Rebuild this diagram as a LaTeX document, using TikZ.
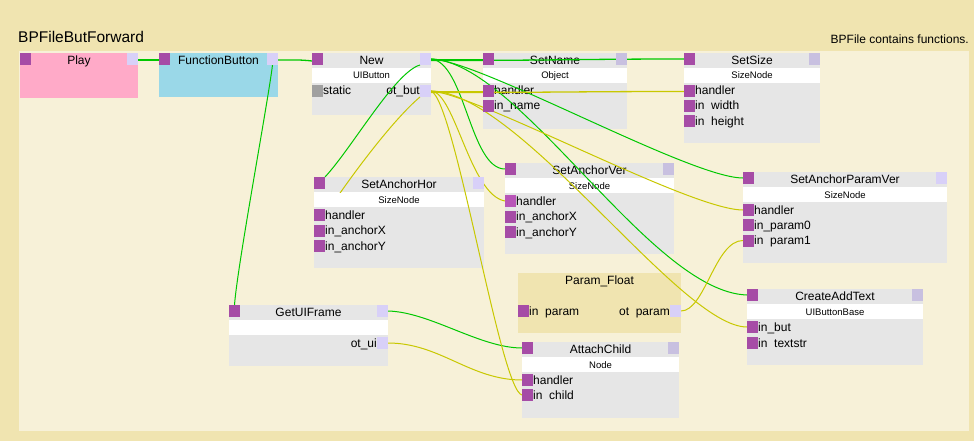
\documentclass[tikz,border=0pt]{standalone}
\usepackage{fontspec}
\setmainfont{Liberation Sans}
\pgfdeclarelayer{fg}
\pgfsetlayers{main,fg}
\definecolor{outerbg}{HTML}{F0E4B0}
\definecolor{innerbg}{HTML}{F7F1D8}
\definecolor{nodegray}{HTML}{E6E6E6}
\definecolor{portin}{HTML}{A64CA6}
\definecolor{porthot}{HTML}{B855B8}
\definecolor{portlight}{HTML}{D8D0F8}
\definecolor{portdark}{HTML}{C8C0E0}
\definecolor{portstatic}{HTML}{A0A0A0}
\definecolor{playpink}{HTML}{FFAAC8}
\definecolor{fbblue}{HTML}{9AD8E8}
\definecolor{execgreen}{HTML}{00C800}
\definecolor{datayellow}{HTML}{C8C800}
\newcommand\fttl{\fontsize{12}{14}\selectfont}
\newcommand\fsub{\fontsize{9.5}{11}\selectfont}
\tikzset{
  box/.style={anchor=north west, inner sep=0pt, outer sep=0pt, draw=none, fill=nodegray},
  band/.style={anchor=north west, inner sep=0pt, outer sep=0pt, draw=none, fill=white, minimum height=15pt},
  port/.style={anchor=north west, inner sep=0pt, outer sep=0pt, draw=none, minimum width=11pt, minimum height=12pt},
  inport/.style={port, fill=portin},
  outport/.style={port, fill=portlight},
  ttl/.style={font=\fttl, inner sep=0pt, anchor=base},
  sub/.style={font=\fsub, inner sep=0pt, anchor=base},
  lbl/.style={font=\fttl, inner sep=0pt, anchor=base west},
  rlbl/.style={font=\fttl, inner sep=0pt, anchor=base east},
  exec/.style={draw=execgreen, line width=1pt},
  data/.style={draw=datayellow, line width=1pt},
  flat/.style={line width=1.3pt}
}
% name, x, y, w, h, title, subtitle, out-port colour
\newcommand\bpfunc[8]{%
  \node[box, minimum width=#4pt, minimum height=#5pt] (#1) at (#2,#3) {};
  \node[band, minimum width=#4pt] (#1-band) at ([yshift=-15pt]#1.north west) {};
  \node[ttl] (#1-title) at ([yshift=-11.5pt]#1.north) {#6};
  \node[sub] (#1-sub) at ([yshift=-11pt]#1-band.north) {#7};
  \begin{pgfonlayer}{fg}
  \node[inport] (#1-in) at (#1.north west) {};
  \node[outport, fill=#8, anchor=north east] (#1-out) at (#1.north east) {};
  \end{pgfonlayer}}
% name, x, y, w, h, fill, title, out-port colour
\newcommand\bpplain[8]{%
  \node[box, fill=#6, minimum width=#4pt, minimum height=#5pt] (#1) at (#2,#3) {};
  \node[ttl] (#1-title) at ([yshift=-11.5pt]#1.north) {#7};
  \begin{pgfonlayer}{fg}
  \node[inport] (#1-in) at (#1.north west) {};
  \node[outport, fill=#8, anchor=north east] (#1-out) at (#1.north east) {};
  \end{pgfonlayer}}
% node, id, offset, label, port colour
\newcommand\inrow[5]{%
  \begin{pgfonlayer}{fg}\node[inport, fill=#5] (#1-#2) at ([yshift=-#3pt]#1.north west) {};\end{pgfonlayer}
  \node[lbl] (#1-#2-l) at ([yshift=-10pt]#1-#2.north east) {#4};}
% node, id, offset, label
\newcommand\outrow[4]{%
  \begin{pgfonlayer}{fg}\node[outport, anchor=north east] (#1-#2) at ([yshift=-#3pt]#1.north east) {};\end{pgfonlayer}
  \node[rlbl] (#1-#2-l) at ([yshift=-10pt]#1-#2.north west) {#4};}
\begin{document}
\begin{tikzpicture}[x=1pt,y=-1pt]
\useasboundingbox (0,0) rectangle (974,441);
\node[box, fill=outerbg, minimum width=974pt, minimum height=441pt] (bg) at (0,0) {};
\node[box, fill=innerbg, minimum width=950pt, minimum height=380pt] (panel) at (19,51) {};
\node[font=\fontsize{15.5}{18}\selectfont, inner sep=0pt, anchor=base west] (maintitle) at (18,43) {BPFileButForward};
\node[font=\fttl, inner sep=0pt, anchor=base east] (note) at (969,44) {BPFile contains functions.};

\bpplain{play}{20}{53}{118}{45}{playpink}{Play}{portlight}
\bpplain{fb}{159}{53}{119}{44}{fbblue}{FunctionButton}{portlight}

\bpfunc{new}{312}{53}{119}{62}{New}{UIButton}{portlight}
\inrow{new}{st}{32}{static}{portstatic}
\outrow{new}{ot}{32}{ot\_but}

\bpfunc{sn}{483}{53}{144}{76}{SetName}{Object}{portdark}
\inrow{sn}{h}{32}{handler}{portin}
\inrow{sn}{nm}{47}{in\_name}{portin}

\bpfunc{ss}{684}{53}{136}{90}{SetSize}{SizeNode}{portdark}
\inrow{ss}{h}{32}{handler}{portin}
\inrow{ss}{w}{47}{in\ \ width}{portin}
\inrow{ss}{ht}{62}{in\ \ height}{portin}

\bpfunc{sah}{314}{177}{170}{91}{SetAnchorHor}{SizeNode}{portlight}
\inrow{sah}{h}{32}{handler}{portin}
\inrow{sah}{ax}{47.5}{in\_anchorX}{portin}
\inrow{sah}{ay}{63}{in\_anchorY}{portin}

\bpfunc{sav}{505}{163}{169}{91}{SetAnchorVer}{SizeNode}{portdark}
\inrow{sav}{h}{32}{handler}{porthot}
\inrow{sav}{ax}{47.5}{in\_anchorX}{portin}
\inrow{sav}{ay}{63}{in\_anchorY}{portin}

\bpfunc{sapv}{743}{172}{204}{91}{SetAnchorParamVer}{SizeNode}{portlight}
\inrow{sapv}{h}{32}{handler}{portin}
\inrow{sapv}{p0}{47}{in\_param0}{portin}
\inrow{sapv}{p1}{62.5}{in\ \ param1}{portin}

\bpfunc{cat}{747}{289}{176}{76}{CreateAddText}{UIButtonBase}{portdark}
\inrow{cat}{but}{32}{in\_but}{portin}
\inrow{cat}{ts}{48}{in\ \ textstr}{portin}

\node[box, fill=outerbg, minimum width=163pt, minimum height=60pt] (pf) at (518,273) {};
\node[ttl] (pf-title) at ([yshift=-11pt]pf.north) {Param\_Float};
\inrow{pf}{ip}{32}{in\ \ param}{portin}
\outrow{pf}{ot}{32}{ot\ \ param}

\bpfunc{gui}{229}{305}{159}{61}{GetUIFrame}{}{portlight}
\outrow{gui}{ot}{32}{ot\_ui}

\bpfunc{ac}{522}{342}{157}{76}{AttachChild}{Node}{portdark}
\inrow{ac}{h}{32}{handler}{portin}
\inrow{ac}{ch}{47}{in\ \ child}{portin}

% execution links
\draw[exec, flat] ([yshift=-1pt]play-out.east) -- ([yshift=-1pt]fb-in.west);
\draw[exec, flat] ([yshift=-1pt]fb-out.east) .. controls +(12,0) and +(-12,-1.5) .. ([yshift=-2pt]new-in.west);
\draw[exec] (fb-out.south) .. controls +(-5,40) and +(3,-40) .. (gui-in.north);
\draw[exec, flat] ([yshift=-1pt]new-out.east) -- ([yshift=-1pt]sn-in.west);
\draw[exec, flat] ([yshift=-1.5pt]new-out.east) .. controls +(120,0) and +(-100,0) .. ([yshift=0pt]ss-in.west);
\draw[exec] (new-out.south west) .. controls +(-25,7) and +(27,-29) .. (sah-in.north east);
\draw[exec] (new-out.east) .. controls +(34,3) and +(-35,0) .. (sav-in.west);
\draw[exec] (new-out.east) .. controls +(49,1) and +(-53,0) .. (sapv-in.west);
\draw[exec] (new-out.east) .. controls +(89,3) and +(-97,-3) .. (cat-in.west);
\draw[exec] (gui-out.east) .. controls +(42,1) and +(-42,0) .. (ac-in.west);

% data links
\draw[data, flat] ([yshift=-1pt]new-ot.east) -- ([yshift=-1pt]sn-h.west);
\draw[data, flat] ([yshift=-1.5pt]new-ot.east) .. controls +(120,0) and +(-100,0) .. ([yshift=-0.5pt]ss-h.west);
\begin{scope}
\clip (0,0) rectangle (974,192);
\draw[data] (new-ot.south west) .. controls +(-25,21) and +(30,-45) .. (sah-h.east);
\end{scope}
\draw[data] (new-ot.east) .. controls +(24,9) and +(-22,-5) .. (ac-ch.west);
\draw[data] (new-ot.east) .. controls +(24,1) and +(-35,-6) .. (sav-h.west);
\draw[data] (new-ot.east) .. controls +(49,4) and +(-53,0) .. (sapv-h.west);
\draw[data] (new-ot.east) .. controls +(89,1) and +(-67,0) .. (cat-but.west);
\draw[data] (pf-ot.east) .. controls +(24,0) and +(-28,0) .. (sapv-p1.west);
\draw[data] (gui-ot.east) .. controls +(52,0) and +(-52,0) .. (ac-h.west);
\end{tikzpicture}
\end{document}
